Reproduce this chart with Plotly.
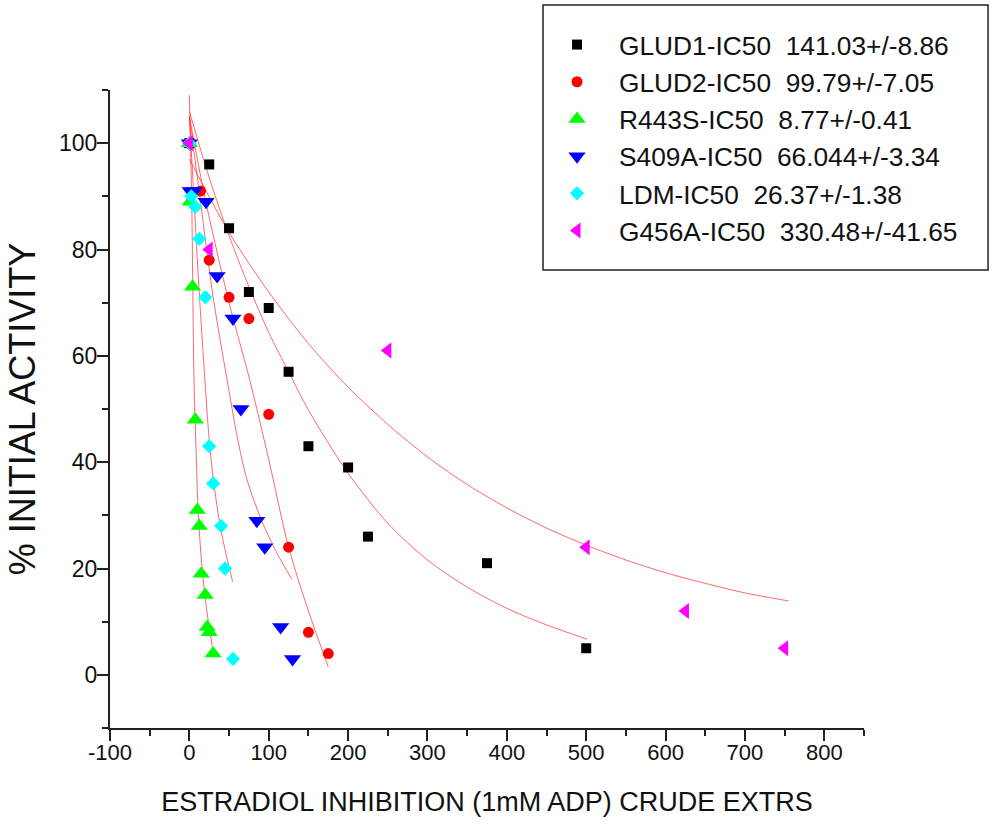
import plotly.graph_objects as go

# ---- measured points (concentration, % initial activity) ----
glud1_x = [0, 25, 50, 75, 100, 125, 150, 200, 225, 375, 500]
glud1_y = [100, 96, 84, 72, 69, 57, 43, 39, 26, 21, 5]

glud2_x = [0, 14, 25, 50, 75, 100, 125, 150, 175]
glud2_y = [100, 91, 78, 71, 67, 49, 24, 8, 4]

r443s_x = [0, 1, 4, 7.5, 10, 12.5, 15, 20, 22.5, 25, 30]
r443s_y = [100, 89, 73, 48, 31, 28, 19, 15, 9, 8, 4]

s409a_x = [0, 1, 6, 21, 35, 55, 65, 85, 95, 115, 130]
s409a_y = [100, 91, 91, 89, 75, 67, 50, 29, 24, 9, 3]

ldm_x = [0, 2.5, 7.5, 12.5, 20, 25, 30, 40, 45, 55]
ldm_y = [100, 90, 88, 82, 71, 43, 36, 28, 20, 3]

g456a_x = [0, 25, 250, 500, 625, 750]
g456a_y = [100, 80, 61, 24, 12, 5]

# ---- fitted inhibition curves ----
fit_glud1_x = [0, 25, 50, 75, 100, 125, 150, 200, 250, 300, 350, 400, 450, 501]
fit_glud1_y = [106, 93.5, 82.6, 73, 64.4, 57, 49.8, 37.9, 28.5, 21.6, 16.5, 12.5, 9.4, 6.7]

fit_glud2_x = [0, 20, 50, 76, 100, 125, 150, 175]
fit_glud2_y = [105, 89.5, 70, 55.5, 40.5, 24, 12, 1.5]

fit_r443s_x = [0, 1.5, 3, 5.8, 8.3, 11.2, 16, 22, 28.9]
fit_r443s_y = [109, 99, 89, 55.5, 43, 30.4, 20, 12, 5.3]

fit_s409a_x = [0, 14, 30, 47.5, 60, 72, 91, 110, 129]
fit_s409a_y = [105, 89, 71, 55.5, 45, 37, 29, 23, 18]

fit_ldm_x = [0, 6, 12, 19.6, 24, 30, 40, 54.5]
fit_ldm_y = [105, 89, 73, 55.5, 46, 37, 27, 17.5]

fit_g456a_x = [0, 50, 100, 150, 200, 250, 300, 350, 400, 450, 500, 550, 600, 650, 700, 755]
fit_g456a_y = [97, 83.2, 72, 62.3, 54.1, 47.1, 41, 35.8, 31.4, 27.6, 24.4, 21.6, 19.2, 17.2, 15.4, 13.9]

x_ticks = [-100, 0, 100, 200, 300, 400, 500, 600, 700, 800]
x_tick_text = ["-100", "0", "100", "200", "300", "400", "500", "600", "700", "800"]
y_ticks = [0, 20, 40, 60, 80, 100]

names = [
    "GLUD1-IC50\u00a0\u00a0141.03+/-8.86",
    "GLUD2-IC50\u00a0\u00a099.79+/-7.05",
    "R443S-IC50\u00a0\u00a08.77+/-0.41",
    "S409A-IC50\u00a0\u00a066.044+/-3.34",
    "LDM-IC50\u00a0\u00a026.37+/-1.38",
    "G456A-IC50\u00a0\u00a0330.48+/-41.65",
]
colors = ["#000000", "#ff0000", "#00ff00", "#0000ff", "#00ffff", "#ff00ff"]
symbols = ["square", "circle", "triangle-up", "triangle-down", "diamond", "triangle-left"]
sizes = [10, 11, 15, 15, 11, 14]

points = [
    (glud1_x, glud1_y), (glud2_x, glud2_y), (r443s_x, r443s_y),
    (s409a_x, s409a_y), (ldm_x, ldm_y), (g456a_x, g456a_y),
]
fits = [
    (fit_glud1_x, fit_glud1_y), (fit_glud2_x, fit_glud2_y), (fit_r443s_x, fit_r443s_y),
    (fit_s409a_x, fit_s409a_y), (fit_ldm_x, fit_ldm_y), (fit_g456a_x, fit_g456a_y),
]

fig = go.Figure()

for fx, fy in fits:
    fig.add_trace(go.Scatter(
        x=fx, y=fy, mode="lines", showlegend=False, hoverinfo="skip",
        line=dict(color="rgba(255,40,40,0.7)", width=1, shape="spline", smoothing=0.8),
    ))

for i, (px, py) in enumerate(points):
    fig.add_trace(go.Scatter(
        x=px, y=py, mode="markers", name=names[i], legendgroup=f"g{i}",
        marker=dict(symbol=symbols[i], color=colors[i], size=sizes[i], line=dict(width=0)),
    ))

axis_font = dict(family="Liberation Sans, Arial, sans-serif", size=23, color="#111111")
dark = "#222222"

# frame around the legend
fig.add_shape(type="rect", xref="paper", yref="paper",
              x0=0.5743, x1=1.1645, y0=0.7179, y1=1.1332,
              line=dict(color=dark, width=1.5), fillcolor="white", layer="below")

fig.update_layout(
    width=992, height=825, autosize=False,
    margin=dict(l=110, r=128, t=90, b=97, autoexpand=False),
    paper_bgcolor="white", plot_bgcolor="white",
    font=dict(family="Liberation Sans, Arial, sans-serif", color="#111111"),
    showlegend=True,
    legend=dict(
        x=0.5637, y=1.1082, xanchor="left", yanchor="top",
        bgcolor="rgba(0,0,0,0)", borderwidth=0,
        font=dict(size=26.3, color="#111111"),
        itemwidth=74, tracegroupgap=0,
    ),
    xaxis=dict(
        range=[-100, 850], tickmode="array", tickvals=x_ticks, ticktext=x_tick_text,
        showgrid=False, zeroline=False, showline=True, linecolor=dark, linewidth=2,
        ticks="outside", ticklen=11, tickwidth=2, tickcolor=dark, ticklabelstandoff=-7,
        minor=dict(dtick=50, tick0=-100, ticks="outside", ticklen=6, tickwidth=2, tickcolor=dark),
        tickfont=dict(family="Liberation Sans, Arial, sans-serif", size=22, color="#111111"),
        title=dict(text="ESTRADIOL INHIBITION (1mM ADP) CRUDE EXTRS",
                   font=dict(size=27, color="#111111"), standoff=28),
    ),
    yaxis=dict(
        range=[-10, 110], tickmode="array", tickvals=y_ticks,
        showgrid=False, zeroline=False, showline=True, linecolor=dark, linewidth=2,
        ticks="outside", ticklen=11, tickwidth=2, tickcolor=dark, ticklabelstandoff=-5,
        minor=dict(dtick=10, tick0=0, ticks="outside", ticklen=6, tickwidth=2, tickcolor=dark),
        tickfont=axis_font,
        title=dict(text="% INITIAL ACTIVITY", font=dict(size=36, color="#111111"), standoff=12),
    ),
)

fig.write_html("out.html")
